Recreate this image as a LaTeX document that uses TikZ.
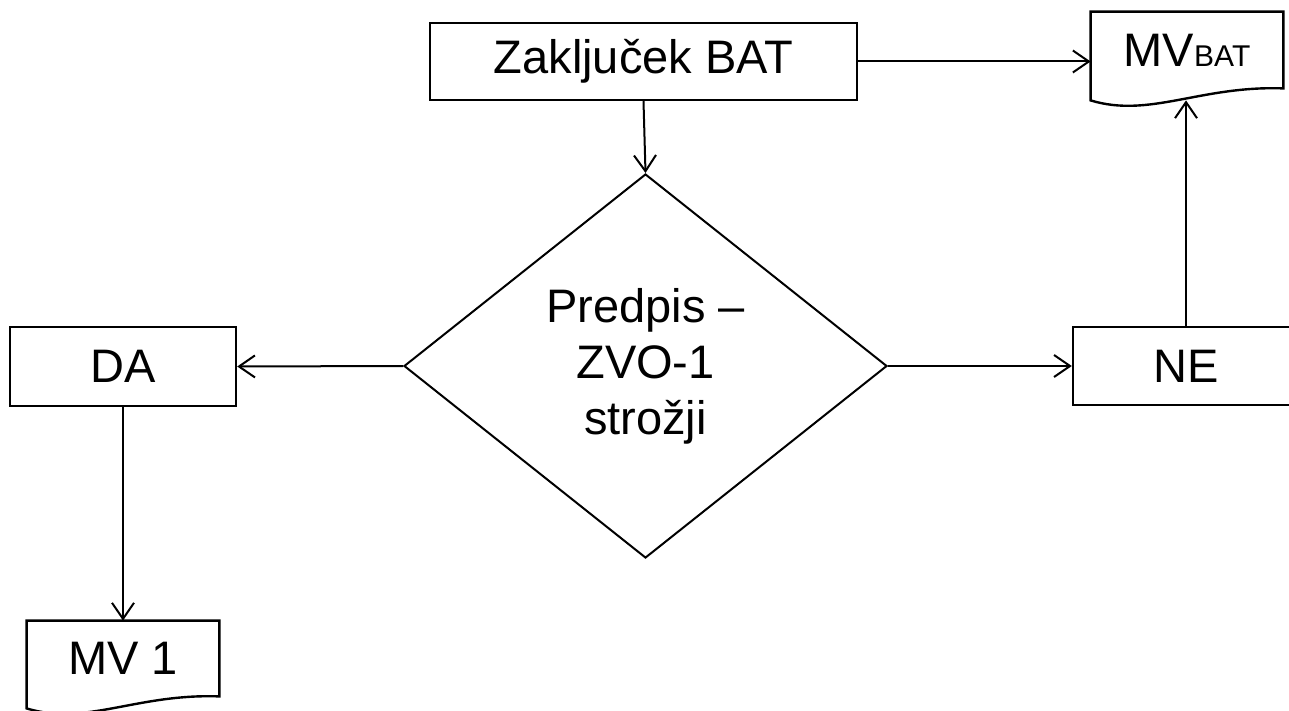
\documentclass[tikz,border=0pt]{standalone}
\usepackage{fontspec}
\setmainfont{Liberation Sans}
\usepackage{tikz}
\usetikzlibrary{positioning, arrows.meta, shapes.geometric, calc}

% document shape: box with wavy bottom, drawn round a node
\newcommand{\docoutline}[1]{%
  \draw [line width=1.2pt] (#1.south west) -- (#1.north west) -- (#1.north east) -- (#1.south east)
    .. controls ($(#1.south east)+(-83,-3)$) and ($(#1.south west)+(59,30)$) .. ($(#1.south west)+(0,12)$) -- cycle ;}

\begin{document}
\begin{tikzpicture}[x=0.5pt,y=0.5pt,yscale=-1,xscale=1,
                    every node/.style={font=\fontsize{23.5}{28}\selectfont},
                    box/.style={draw, line width=1.2pt, inner sep=0pt},
                    doc/.style={inner sep=0pt, minimum width=96pt, minimum height=38pt},
                    arr/.style={-{Straight Barb[length=8pt,width=11pt]}, line width=1pt}]
\useasboundingbox (0,0) rectangle (1289,711);

%Shape: Rectangle
\node (zak) at (643.5,61.5) [box, minimum width=213.5pt, minimum height=38.5pt] {Zaključek BAT};
%Shape: Document
\node (bat) at (1187,50) [doc] {MV{\fontsize{15}{15}\selectfont BAT}};
\docoutline{bat}
%Shape: Diamond
\node (dec) at (645.5,366) [diamond, draw, line width=1pt, inner sep=0pt, minimum width=241.5pt, minimum height=192pt, align=center] {Predpis –\\ZVO-1\\strožji};
%Shape: Rectangle
\node (da) at (123,366.5) [box, minimum width=113pt, minimum height=39.5pt] {DA};
%Shape: Rectangle
\node (ne) at (1186,366) [box, minimum width=113pt, minimum height=39pt] {NE};
%Shape: Document
\node (mv) at (123,658.5) [doc, minimum height=37.5pt] {MV 1};
\docoutline{mv}

%Straight Lines
\draw [arr] (zak.east) -- (zak.east -| bat.west) ;
\draw [arr] (zak.south) -- (dec.north) ;
\draw [arr] (dec.west) -- (da.east) ;
\draw [arr] (dec.east) -- (ne.west) ;
\draw [arr] (ne.north) -- ($(bat.south -| ne.north)+(0,12)$) ;
\draw [arr] (da.south) -- (mv.north) ;

\end{tikzpicture}
\end{document}
